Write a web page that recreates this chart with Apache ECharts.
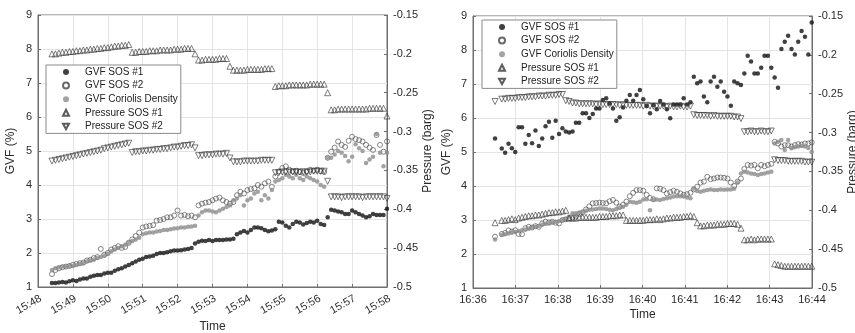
<!DOCTYPE html>
<html><head><meta charset="utf-8">
<script src="https://cdn.jsdelivr.net/npm/echarts@6/dist/echarts.min.js"></script>
<style>html,body{margin:0;padding:0;background:#fff}#c{width:855px;height:333px}</style>
</head><body><div id="c"></div>
<script>
// ---------- data ----------
const seriesNames = ['GVF SOS #1','GVF SOS #2','GVF Coriolis Density','Pressure SOS #1','Pressure SOS #2'];
const leftTimeTicks = ['15:48','15:49','15:50','15:51','15:52','15:53','15:54','15:55','15:56','15:57','15:58'];
const rightTimeTicks = ['16:36','16:37','16:38','16:39','16:40','16:41','16:42','16:43','16:44'];
const leftTickStart = 948, rightTickStart = 996;   // minutes of day
const leftStartMin = 948.4, leftStepMin = 0.1;       // sampling of left test
const rightStartMin = 996.52, rightStepMin = 0.0795; // sampling of right test

const leftGvfSos1 = [1.12,1.12,1.13,1.15,1.13,1.17,1.2,1.18,1.22,1.25,
 1.25,1.3,1.33,1.35,1.35,1.4,1.42,1.42,1.48,1.52,
 1.55,1.6,1.65,1.7,1.75,1.8,1.83,1.88,1.9,1.92,
 1.97,2.0,2.0,2.02,2.05,2.07,2.07,2.08,2.1,2.12,
 2.15,2.28,2.33,2.36,2.35,2.38,2.35,2.38,2.38,2.38,
 2.4,2.4,2.42,2.55,2.6,2.65,2.6,2.68,2.75,2.75,
 2.73,2.68,2.64,2.66,2.7,2.92,2.9,2.8,2.75,2.85,
 2.92,2.9,2.84,2.88,2.92,2.9,2.95,2.85,2.82,3.05,
 3.27,3.25,3.22,3.2,3.15,3.15,3.25,3.2,3.15,3.1,
 3.05,3.08,3.15,3.12,3.12,3.12,3.3];
const leftGvfSos2 = [1.38,1.5,1.55,1.58,1.6,1.62,1.65,1.68,1.7,1.72,
 1.78,1.8,1.85,1.88,2.12,1.95,2.0,2.1,2.15,2.2,
 2.15,2.18,2.3,2.4,2.5,2.6,2.75,2.78,2.8,2.82,
 2.95,2.97,3.0,3.05,3.05,3.1,3.25,3.1,3.12,3.08,
 3.1,3.05,3.4,3.45,3.48,3.5,3.55,3.6,3.63,3.55,
 3.5,3.45,3.5,3.7,3.8,3.75,3.85,3.88,3.9,4.0,
 3.95,4.05,4.1,3.95,4.25,4.4,4.5,4.55,4.45,4.4,
 4.42,4.38,4.35,4.4,4.45,4.42,4.45,4.4,4.38,4.8,
 4.98,5.1,5.28,5.18,5.12,5.3,5.42,5.35,5.32,5.28,
 5.18,5.1,5.03,5.47,5.18,4.98,5.28];
const leftGvfCoriolis = [1.5,1.55,1.58,1.6,1.6,1.62,1.62,1.65,1.68,1.7,
 1.75,1.78,1.8,1.85,1.88,1.92,1.98,2.05,2.1,2.15,
 2.2,2.24,2.3,2.35,2.4,2.45,2.55,2.58,2.6,2.6,
 2.63,2.65,2.68,2.68,2.7,2.72,2.73,2.75,2.75,2.77,
 2.78,2.8,3.1,3.2,3.25,3.25,3.22,3.2,3.25,3.3,
 3.35,3.4,3.55,3.6,3.7,3.4,3.55,3.6,3.75,3.8,
 3.55,3.7,3.6,3.85,4.1,4.15,4.2,4.3,4.25,4.2,
 4.3,4.2,4.15,4.25,4.2,4.15,4.1,4.0,3.95,4.8,
 4.8,4.9,5.0,4.95,4.85,4.7,4.83,5.2,5.08,5.0,
 4.65,4.75,4.83,5.5,4.95,4.55,4.95];
const leftPressSos1 = [-0.2,-0.2,-0.199,-0.198,-0.198,-0.197,-0.197,-0.196,-0.196,-0.195,-0.195,-0.194,-0.194,-0.193,-0.193,-0.192,-0.192,-0.191,-0.19,-0.19,-0.189,-0.189,-0.188,
 -0.198,-0.198,-0.197,-0.197,-0.197,-0.196,-0.196,-0.196,-0.195,-0.195,-0.195,-0.195,-0.194,-0.194,-0.194,-0.193,-0.193,-0.193,
 -0.2,
 -0.208,-0.208,-0.207,-0.207,-0.207,-0.207,-0.206,-0.206,-0.206,
 -0.216,
 -0.221,-0.221,-0.221,-0.221,-0.22,-0.22,-0.22,-0.22,-0.22,-0.219,-0.219,-0.219,
 -0.242,-0.241,-0.241,-0.241,-0.24,-0.24,-0.24,-0.24,-0.24,-0.24,-0.239,-0.239,-0.239,-0.239,-0.239,
 -0.25,
 -0.272,-0.272,-0.271,-0.271,-0.271,-0.271,-0.271,-0.271,-0.271,-0.271,-0.271,-0.27,-0.27,-0.27,-0.27,-0.27,
 -0.28];
const leftPressSos2 = [-0.338,-0.337,-0.336,-0.335,-0.334,-0.333,-0.332,-0.331,-0.33,-0.329,-0.328,-0.327,-0.326,-0.325,-0.324,-0.322,-0.321,-0.32,-0.319,-0.318,-0.317,-0.316,-0.315,
 -0.327,-0.326,-0.326,-0.325,-0.325,-0.324,-0.324,-0.323,-0.323,-0.322,-0.322,-0.321,-0.32,-0.32,-0.319,-0.318,-0.318,-0.317,-0.321,
 -0.331,-0.331,-0.33,-0.33,-0.33,-0.329,-0.329,-0.329,-0.328,
 -0.334,
 -0.339,-0.339,-0.339,-0.338,-0.338,-0.338,-0.338,-0.338,-0.337,-0.337,-0.337,-0.337,
 -0.353,-0.353,-0.352,-0.352,-0.352,-0.352,-0.352,-0.352,-0.352,-0.352,-0.352,-0.351,-0.351,-0.351,-0.351,
 -0.364,
 -0.384,-0.384,-0.384,-0.385,-0.384,-0.384,-0.384,-0.384,-0.384,-0.385,-0.384,-0.384,-0.384,-0.384,-0.384,-0.384,
 -0.386];

const rightGvfSos1 = [5.4,null,5.1,4.98,5.24,5.11,5.0,5.73,5.73,5.24,
 5.5,5.26,5.63,5.18,5.4,5.76,5.89,5.42,5.92,5.53,
 5.7,5.6,5.57,5.6,5.86,5.86,6.14,6.14,6.0,6.12,
 6.28,6.28,6.53,6.58,6.43,6.28,5.92,6.02,6.31,6.51,
 6.68,6.51,6.68,6.82,6.55,6.35,6.14,6.38,6.26,6.5,
 6.4,6.26,5.99,6.4,6.4,6.4,6.58,6.4,6.46,7.21,
 7.02,7.07,6.63,6.46,7.07,7.21,6.92,7.07,6.77,6.63,
 6.36,7.07,7.02,6.97,7.31,7.83,7.66,7.31,7.31,7.48,
 7.83,7.83,7.48,7.19,6.89,8.03,8.24,8.42,8.03,7.87,
 8.24,8.56,8.39,7.87,8.81];
const rightGvfSos2 = [2.51,null,2.59,2.62,2.69,2.66,2.7,2.59,2.58,2.76,
 2.8,2.78,2.82,2.8,2.9,2.95,2.93,2.95,2.92,2.9,
 3.0,3.02,3.05,3.08,3.1,3.18,3.22,3.31,3.4,3.49,
 3.5,3.51,3.5,3.49,3.55,3.59,3.51,3.39,3.45,3.54,
 3.7,3.8,3.88,3.88,3.86,3.74,3.65,3.61,3.93,3.92,
 3.88,3.78,3.82,3.86,3.83,3.78,3.74,3.76,3.8,3.9,
 3.98,4.1,4.13,4.27,4.2,4.22,4.25,4.25,4.24,4.22,
 4.1,4.0,4.13,4.22,4.5,4.62,4.6,4.62,4.52,4.62,
 4.58,4.62,4.65,5.3,5.25,5.16,5.2,5.2,5.16,5.2,
 5.23,5.22,5.25,5.25,5.28];
const rightGvfCoriolis = [2.43,null,2.56,2.58,2.6,2.63,2.65,2.68,2.7,2.71,
 2.74,2.78,2.8,2.82,2.86,2.88,2.9,2.93,2.95,2.97,
 3.0,3.02,3.1,3.2,3.2,3.22,3.24,3.27,3.3,3.31,
 3.32,3.34,3.34,3.32,3.3,3.29,3.32,3.36,3.39,3.45,
 3.54,3.52,3.51,3.54,3.6,3.61,3.29,3.59,3.6,3.59,
 3.62,3.64,3.66,3.69,3.7,3.7,3.69,3.66,3.64,3.93,
 3.85,3.83,3.86,3.88,3.9,3.88,3.88,3.9,3.89,3.9,
 3.9,3.92,4.1,4.37,4.42,4.4,4.37,4.35,4.32,4.35,
 4.37,4.4,4.42,5.25,5.3,5.35,5.06,5.35,5.11,5.14,
 5.16,5.18,5.16,5.12,5.0];
const rightPressSos1 = [-0.416,null,
 -0.413,-0.413,-0.412,-0.411,-0.412,-0.41,-0.409,-0.408,-0.407,-0.407,-0.406,-0.406,-0.405,-0.404,-0.403,-0.403,-0.402,-0.402,-0.401,-0.4,
 -0.41,-0.41,-0.41,-0.409,-0.409,-0.409,-0.409,-0.409,-0.409,-0.408,-0.408,-0.408,-0.407,-0.407,-0.407,-0.406,-0.406,
 -0.413,-0.413,-0.413,-0.413,-0.413,-0.413,-0.412,-0.412,-0.412,-0.411,-0.412,-0.411,-0.41,-0.41,-0.409,-0.409,-0.409,-0.408,-0.408,-0.407,
 -0.408,-0.416,
 -0.42,-0.42,-0.419,-0.419,-0.419,-0.418,-0.418,-0.418,-0.417,-0.417,-0.417,-0.418,
 -0.423,
 -0.438,-0.438,-0.437,-0.438,-0.437,-0.437,-0.437,-0.437,-0.437,
 -0.469,-0.47,-0.471,-0.472,-0.472,-0.472,-0.472,-0.472,-0.472,-0.472,-0.472,-0.472];
const rightPressSos2 = [-0.26,null,
 -0.257,-0.257,-0.256,-0.256,-0.256,-0.255,-0.255,-0.255,-0.254,-0.254,-0.254,-0.253,-0.253,-0.253,-0.252,-0.252,-0.252,-0.251,-0.251,
 -0.259,-0.26,
 -0.262,-0.262,-0.263,-0.263,-0.263,-0.263,-0.263,-0.264,-0.263,-0.264,-0.264,-0.264,-0.264,-0.264,-0.265,-0.264,-0.265,-0.265,-0.265,-0.265,
 -0.265,-0.266,-0.265,-0.266,-0.266,-0.266,-0.266,-0.266,-0.267,-0.266,-0.267,-0.267,-0.266,-0.267,-0.267,-0.266,
 -0.277,-0.278,-0.278,-0.278,-0.278,-0.279,-0.278,-0.279,-0.279,-0.279,-0.279,-0.279,-0.28,-0.28,
 -0.282,
 -0.299,-0.299,-0.298,-0.299,-0.299,-0.298,-0.299,-0.299,-0.298,
 -0.335,-0.336,-0.336,-0.336,-0.337,-0.337,-0.337,-0.337,-0.337,-0.338,-0.338,-0.338];

// ---------- chart ----------
const FONT = 'Liberation Sans, Arial, Helvetica, sans-serif';
const AX = '#6f6f6f', TXT = '#2b2b2b', GRIDC = '#e4e4e4';
function pts(start, step, vals){
  const out = [];
  vals.forEach((v,i)=>{ if(v!==null) out.push([start+i*step, v]); });
  return out;
}
const styles = [
  {symbol:'circle', symbolSize:4.5, itemStyle:{color:'#111'}},
  {symbol:'circle', symbolSize:5, itemStyle:{color:'rgba(255,255,255,0)', borderColor:'#444', borderWidth:0.8}},
  {symbol:'circle', symbolSize:4.5, itemStyle:{color:'#8c8c8c'}},
  {symbol:'triangle', symbolSize:6, itemStyle:{color:'rgba(255,255,255,0)', borderColor:'#333', borderWidth:0.8}},
  {symbol:'path://M0,0L10,0L5,9Z', symbolSize:6, itemStyle:{color:'rgba(255,255,255,0)', borderColor:'#333', borderWidth:0.8}}
];
function fmtPress(v){ return String(parseFloat((+v).toFixed(2))); }
function xAxisCfg(gi, min, max, ticks, rotate, margin, nameGap, vAlign){
  const lab = {rotate:rotate, margin:margin, fontSize:11, color:TXT, fontFamily:FONT,
      formatter:(v)=>ticks[Math.round(v-min)]};
  if (vAlign) lab.verticalAlign = vAlign;
  return {type:'value', gridIndex:gi, min:min, max:max, interval:1,
    axisLine:{show:true, lineStyle:{color:AX, width:1}},
    axisTick:{show:true, inside:true, length:3, lineStyle:{color:AX}},
    splitLine:{show:true, lineStyle:{color:GRIDC, width:1}},
    axisLabel:lab,
    name:'Time', nameLocation:'middle', nameGap:nameGap, nameMoveOverlap:false,
    nameTextStyle:{fontSize:12, color:TXT, fontFamily:FONT}};
}
function yLeft(gi, gap){
  return {type:'value', gridIndex:gi, position:'left', min:1, max:9, interval:1,
    axisLine:{show:true, lineStyle:{color:AX}},
    axisTick:{show:true, inside:true, length:3, lineStyle:{color:AX}},
    splitLine:{show:true, lineStyle:{color:GRIDC}},
    axisLabel:{margin:6, fontSize:11, color:TXT, fontFamily:FONT},
    name:'GVF (%)', nameLocation:'middle', nameGap:gap, nameRotate:90, nameMoveOverlap:false,
    nameTextStyle:{fontSize:12, color:TXT, fontFamily:FONT}};
}
function yRight(gi, gap){
  return {type:'value', gridIndex:gi, position:'right', min:-0.5, max:-0.15, interval:0.05,
    axisLine:{show:true, lineStyle:{color:AX}},
    axisTick:{show:true, inside:true, length:3, lineStyle:{color:AX}},
    splitLine:{show:false},
    axisLabel:{margin:6, fontSize:11, color:TXT, fontFamily:FONT, formatter:fmtPress},
    name:'Pressure (barg)', nameLocation:'middle', nameGap:gap, nameRotate:90, nameMoveOverlap:false,
    nameTextStyle:{fontSize:12, color:TXT, fontFamily:FONT}};
}
function legendCfg(left, top){
  return {left:left, top:top, orient:'vertical', data:seriesNames,
    itemWidth:6, itemHeight:6, itemGap:1.6, padding:[1,3,1,16],
    backgroundColor:'#fff', borderColor:'#8a8a8a', borderWidth:1,
    selectedMode:false,
    textStyle:{fontSize:10, lineHeight:12, color:'#222', fontFamily:FONT, padding:[0,0,0,11]}};
}
const leftSets = [leftGvfSos1, leftGvfSos2, leftGvfCoriolis, leftPressSos1, leftPressSos2];
const rightSets = [rightGvfSos1, rightGvfSos2, rightGvfCoriolis, rightPressSos1, rightPressSos2];
const series = [];
leftSets.forEach((vals,k)=>{
  series.push(Object.assign({type:'scatter', name:seriesNames[k], xAxisIndex:0,
    yAxisIndex: k<3?0:1, data:pts(leftStartMin,leftStepMin,vals), clip:false}, JSON.parse(JSON.stringify(styles[k]))));
});
rightSets.forEach((vals,k)=>{
  series.push(Object.assign({type:'scatter', name:seriesNames[k], xAxisIndex:1,
    yAxisIndex: k<3?2:3, data:pts(rightStartMin,rightStepMin,vals), clip:false}, JSON.parse(JSON.stringify(styles[k]))));
});
const chart = echarts.init(document.getElementById('c'), null, {renderer:'canvas'});
chart.setOption({
  animation:false,
  backgroundColor:'#fff',
  textStyle:{fontFamily:FONT},
  grid:[
    {left:38, top:15, width:349, height:272, show:true, borderColor:AX, borderWidth:1, backgroundColor:'#fff', containLabel:false, outerBoundsMode:'none'},
    {left:473, top:16, width:339, height:272, show:true, borderColor:AX, borderWidth:1, backgroundColor:'#fff', containLabel:false, outerBoundsMode:'none'}
  ],
  xAxis:[ xAxisCfg(0, leftTickStart, leftTickStart+10, leftTimeTicks, 30, 6, 34, 'top'),
          xAxisCfg(1, rightTickStart, rightTickStart+8, rightTimeTicks, 0, 6, 21, null) ],
  yAxis:[ yLeft(0, 21), yRight(0, 35), yLeft(1, 20), yRight(1, 35) ],
  legend:[ legendCfg(46, 65), legendCfg(482, 20) ],
  series:series
});
</script></body></html>
